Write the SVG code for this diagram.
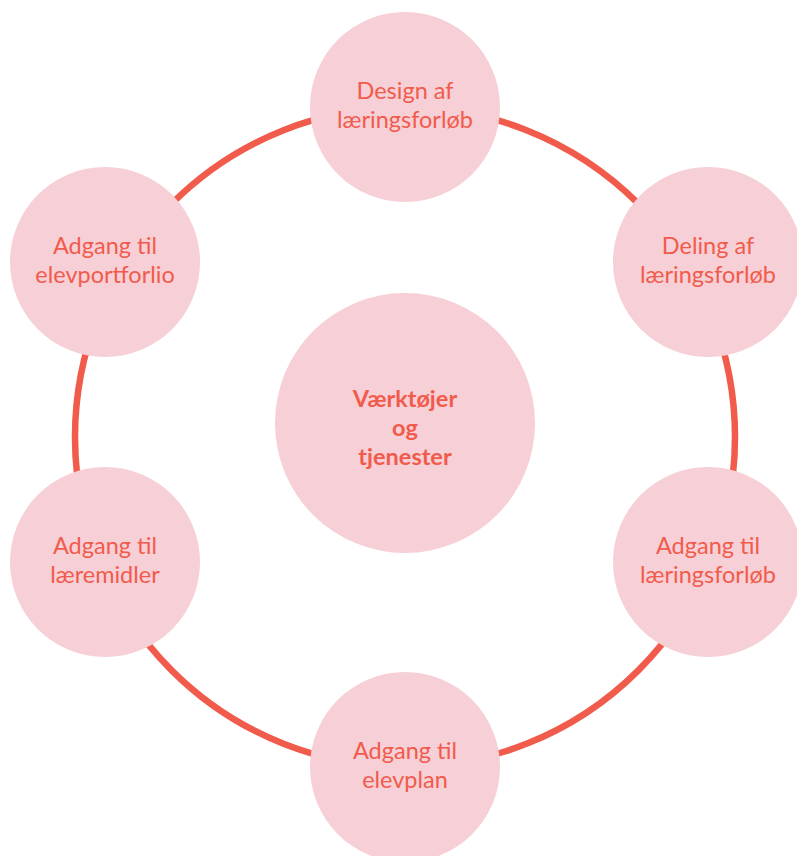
<svg xmlns="http://www.w3.org/2000/svg" width="797" height="856" viewBox="0 0 797 856">
<style>
.n{fill:#f7cfd6}
.t{font-family:Lato,"Open Sans",sans-serif;font-size:23.5px;fill:#f15b4b;text-anchor:middle}
.b{font-weight:bold}
</style>
<rect width="797" height="856" fill="#ffffff"/>
<g id="connectors">
<circle cx="405" cy="437" r="330" fill="none" stroke="#f15b4b" stroke-width="6.5"/>
</g>
<g id="center">
<circle class="n" cx="405" cy="423" r="130"/>
<text class="t b" x="405" y="407">Værktøjer</text>
<text class="t b" x="405" y="436">og</text>
<text class="t b" x="405" y="465">tjenester</text>
</g>
<g id="design">
<circle class="n" cx="405" cy="107" r="95"/>
<text class="t" x="405" y="99">Design af</text>
<text class="t" x="405" y="128">læringsforløb</text>
</g>
<g id="deling">
<circle class="n" cx="708" cy="262" r="95"/>
<text class="t" x="708" y="254">Deling af</text>
<text class="t" x="708" y="283">læringsforløb</text>
</g>
<g id="adgang-laeringsforloeb">
<circle class="n" cx="708" cy="562" r="95"/>
<text class="t" x="708" y="554">Adgang til</text>
<text class="t" x="708" y="583">læringsforløb</text>
</g>
<g id="adgang-elevplan">
<circle class="n" cx="405" cy="767" r="95"/>
<text class="t" x="405" y="759">Adgang til</text>
<text class="t" x="405" y="788">elevplan</text>
</g>
<g id="adgang-laeremidler">
<circle class="n" cx="105" cy="562" r="95"/>
<text class="t" x="105" y="554">Adgang til</text>
<text class="t" x="105" y="583">læremidler</text>
</g>
<g id="adgang-elevportforlio">
<circle class="n" cx="105" cy="262" r="95"/>
<text class="t" x="105" y="254">Adgang til</text>
<text class="t" x="105" y="283">elevportforlio</text>
</g>
</svg>
